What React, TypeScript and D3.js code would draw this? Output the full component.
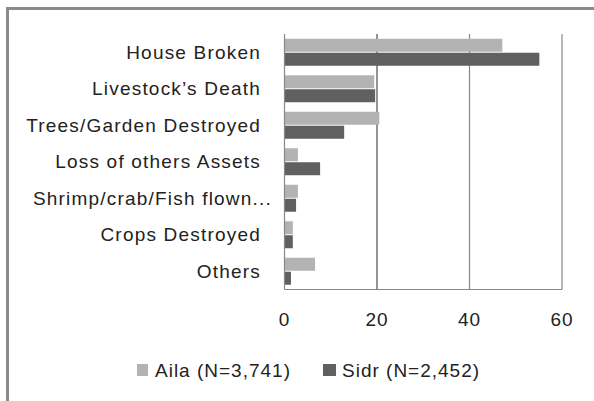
import React from "react";
import * as d3 from "d3";

const categories = [
  "House Broken",
  "Livestock\u2019s Death",
  "Trees/Garden Destroyed",
  "Loss of others Assets",
  "Shrimp/crab/Fish flown...",
  "Crops Destroyed",
  "Others",
];
const seriesNames = ["Aila (N=3,741)", "Sidr (N=2,452)"];
const aila = [47.1, 19.4, 20.5, 2.9, 2.9, 1.8, 6.6];
const sidr = [55.1, 19.6, 12.9, 7.7, 2.5, 1.8, 1.4];
const xTicks = [0, 20, 40, 60];

const colors = ["#b3b3b3", "#606060"];
const FONT = "'Liberation Sans', Arial, sans-serif";

export default function App() {
  const W = 594;
  const H = 401;
  const x = d3.scaleLinear().domain([0, 60]).range([284.5, 562]);
  const y = d3.scaleBand<string>().domain(categories).range([34, 289.5]).padding(0);
  const sub = d3
    .scaleBand<string>()
    .domain(seriesNames)
    .range([0, y.bandwidth()])
    .paddingInner(0.07)
    .paddingOuter(0.34);
  const series = [aila, sidr];

  return (
    <svg
      width={W}
      height={H}
      style={{ position: "absolute", left: 0, top: 0, background: "#fff" }}
      fontFamily={FONT}
    >
      <rect x={0} y={0} width={W} height={H} fill="#fff" />
      {/* outer frame */}
      <line x1={7.5} x2={W} y1={8.5} y2={8.5} stroke="#8a8a8a" strokeWidth={3} />
      <line x1={7.5} x2={7.5} y1={7} y2={H} stroke="#8a8a8a" strokeWidth={3} />

      {/* gridlines */}
      {xTicks.slice(1).map((t) => (
        <line
          key={t}
          x1={x(t)}
          x2={x(t)}
          y1={34}
          y2={289.5}
          stroke="#888"
          strokeWidth={t === 20 ? 1.8 : 1.2}
        />
      ))}

      {/* bars */}
      {categories.map((c, i) =>
        series.map((s, j) => (
          <rect
            key={c + j}
            x={x(0)}
            y={(y(c) as number) + (sub(seriesNames[j]) as number)}
            width={x(s[i]) - x(0)}
            height={sub.bandwidth()}
            fill={colors[j]}
          />
        ))
      )}

      {/* axes */}
      <line x1={x(0)} x2={x(0)} y1={34} y2={289.5} stroke="#888" strokeWidth={1.2} />
      <line x1={x(0)} x2={x(60)} y1={289.5} y2={289.5} stroke="#888" strokeWidth={1.2} />

      {/* category labels */}
      {categories.map((c) => (
        <text
          key={c}
          x={c.endsWith("...") ? 272 : 261}
          y={(y(c) as number) + y.bandwidth() / 2}
          dy="0.35em"
          textAnchor="end"
          fontSize={19}
          letterSpacing={1.2}
          fill="#222"
        >
          {c}
        </text>
      ))}

      {/* tick labels */}
      {xTicks.map((t) => (
        <text
          key={t}
          x={x(t)}
          y={319}
          dy="0.35em"
          textAnchor="middle"
          fontSize={19}
          letterSpacing={1}
          fill="#222"
        >
          {t}
        </text>
      ))}

      {/* legend */}
      {seriesNames.map((n, j) => {
        const lx = j === 0 ? 137 : 323;
        return (
          <g key={n}>
            <rect x={lx} y={364} width={j === 0 ? 11 : 13} height={12} fill={colors[j]} />
            <text
              x={lx + (j === 0 ? 18 : 19)}
              y={370}
              dy="0.35em"
              fontSize={19}
              letterSpacing={1}
              fill="#222"
            >
              {n}
            </text>
          </g>
        );
      })}
    </svg>
  );
}
